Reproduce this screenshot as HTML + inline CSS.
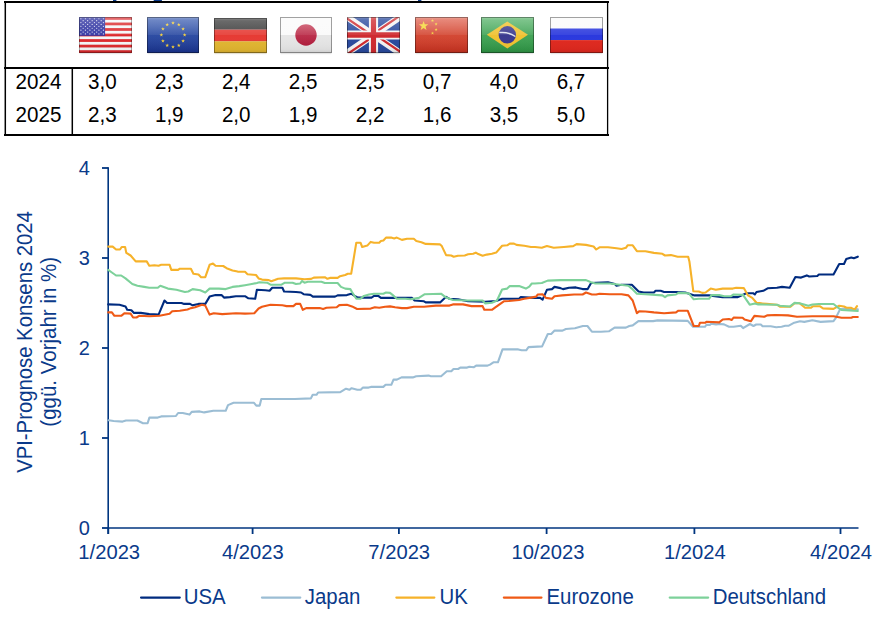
<!DOCTYPE html>
<html><head><meta charset="utf-8"><title>VPI-Prognose</title>
<style>
html,body{margin:0;padding:0;background:#fff;}
body{width:883px;height:617px;overflow:hidden;position:relative;font-family:"Liberation Sans", Arial, sans-serif;}
svg{position:absolute;left:0;top:0;}
</style></head><body>
<svg width="883" height="617" viewBox="0 0 883 617" font-family='"Liberation Sans", Arial, sans-serif'>

<g fill="#0a3a8a"><rect x="113" y="-1" width="3.4" height="2"/><rect x="153.6" y="-1" width="8.4" height="2.2" rx="1"/><rect x="418" y="-1" width="3.4" height="2"/></g>
<g stroke="#000" fill="none">
<line x1="4" y1="2" x2="609" y2="2" stroke-width="2"/>
<line x1="4" y1="68" x2="609" y2="68" stroke-width="2"/>
<line x1="4" y1="135" x2="609" y2="135" stroke-width="2"/>
<line x1="5.3" y1="1" x2="5.3" y2="136" stroke-width="1.5"/>
<line x1="607.6" y1="1" x2="607.6" y2="136" stroke-width="1.3"/>
<line x1="72.3" y1="68" x2="72.3" y2="135" stroke-width="1.5"/>
</g>
<g transform="translate(79,17)">
<rect x="0.5" y="1.2" width="52" height="36" fill="#000" opacity="0.10"/>
<rect width="53" height="36" fill="#f4f6f8"/><rect x="0" y="0.00" width="53" height="2.77" fill="#dd2a2e"/><rect x="0" y="5.54" width="53" height="2.77" fill="#dd2a2e"/><rect x="0" y="11.08" width="53" height="2.77" fill="#dd2a2e"/><rect x="0" y="16.62" width="53" height="2.77" fill="#dd2a2e"/><rect x="0" y="22.15" width="53" height="2.77" fill="#dd2a2e"/><rect x="0" y="27.69" width="53" height="2.77" fill="#dd2a2e"/><rect x="0" y="33.23" width="53" height="2.77" fill="#dd2a2e"/><rect x="0" y="0" width="26.1" height="18.80" fill="#3034a2"/><circle cx="1.90" cy="1.75" r="0.6" fill="#fff" opacity="0.85"/><circle cx="6.40" cy="1.75" r="0.6" fill="#fff" opacity="0.85"/><circle cx="10.90" cy="1.75" r="0.6" fill="#fff" opacity="0.85"/><circle cx="15.40" cy="1.75" r="0.6" fill="#fff" opacity="0.85"/><circle cx="19.90" cy="1.75" r="0.6" fill="#fff" opacity="0.85"/><circle cx="24.40" cy="1.75" r="0.6" fill="#fff" opacity="0.85"/><circle cx="4.15" cy="3.65" r="0.6" fill="#fff" opacity="0.85"/><circle cx="8.65" cy="3.65" r="0.6" fill="#fff" opacity="0.85"/><circle cx="13.15" cy="3.65" r="0.6" fill="#fff" opacity="0.85"/><circle cx="17.65" cy="3.65" r="0.6" fill="#fff" opacity="0.85"/><circle cx="22.15" cy="3.65" r="0.6" fill="#fff" opacity="0.85"/><circle cx="1.90" cy="5.55" r="0.6" fill="#fff" opacity="0.85"/><circle cx="6.40" cy="5.55" r="0.6" fill="#fff" opacity="0.85"/><circle cx="10.90" cy="5.55" r="0.6" fill="#fff" opacity="0.85"/><circle cx="15.40" cy="5.55" r="0.6" fill="#fff" opacity="0.85"/><circle cx="19.90" cy="5.55" r="0.6" fill="#fff" opacity="0.85"/><circle cx="24.40" cy="5.55" r="0.6" fill="#fff" opacity="0.85"/><circle cx="4.15" cy="7.45" r="0.6" fill="#fff" opacity="0.85"/><circle cx="8.65" cy="7.45" r="0.6" fill="#fff" opacity="0.85"/><circle cx="13.15" cy="7.45" r="0.6" fill="#fff" opacity="0.85"/><circle cx="17.65" cy="7.45" r="0.6" fill="#fff" opacity="0.85"/><circle cx="22.15" cy="7.45" r="0.6" fill="#fff" opacity="0.85"/><circle cx="1.90" cy="9.35" r="0.6" fill="#fff" opacity="0.85"/><circle cx="6.40" cy="9.35" r="0.6" fill="#fff" opacity="0.85"/><circle cx="10.90" cy="9.35" r="0.6" fill="#fff" opacity="0.85"/><circle cx="15.40" cy="9.35" r="0.6" fill="#fff" opacity="0.85"/><circle cx="19.90" cy="9.35" r="0.6" fill="#fff" opacity="0.85"/><circle cx="24.40" cy="9.35" r="0.6" fill="#fff" opacity="0.85"/><circle cx="4.15" cy="11.25" r="0.6" fill="#fff" opacity="0.85"/><circle cx="8.65" cy="11.25" r="0.6" fill="#fff" opacity="0.85"/><circle cx="13.15" cy="11.25" r="0.6" fill="#fff" opacity="0.85"/><circle cx="17.65" cy="11.25" r="0.6" fill="#fff" opacity="0.85"/><circle cx="22.15" cy="11.25" r="0.6" fill="#fff" opacity="0.85"/><circle cx="1.90" cy="13.15" r="0.6" fill="#fff" opacity="0.85"/><circle cx="6.40" cy="13.15" r="0.6" fill="#fff" opacity="0.85"/><circle cx="10.90" cy="13.15" r="0.6" fill="#fff" opacity="0.85"/><circle cx="15.40" cy="13.15" r="0.6" fill="#fff" opacity="0.85"/><circle cx="19.90" cy="13.15" r="0.6" fill="#fff" opacity="0.85"/><circle cx="24.40" cy="13.15" r="0.6" fill="#fff" opacity="0.85"/><circle cx="4.15" cy="15.05" r="0.6" fill="#fff" opacity="0.85"/><circle cx="8.65" cy="15.05" r="0.6" fill="#fff" opacity="0.85"/><circle cx="13.15" cy="15.05" r="0.6" fill="#fff" opacity="0.85"/><circle cx="17.65" cy="15.05" r="0.6" fill="#fff" opacity="0.85"/><circle cx="22.15" cy="15.05" r="0.6" fill="#fff" opacity="0.85"/><circle cx="1.90" cy="16.95" r="0.6" fill="#fff" opacity="0.85"/><circle cx="6.40" cy="16.95" r="0.6" fill="#fff" opacity="0.85"/><circle cx="10.90" cy="16.95" r="0.6" fill="#fff" opacity="0.85"/><circle cx="15.40" cy="16.95" r="0.6" fill="#fff" opacity="0.85"/><circle cx="19.90" cy="16.95" r="0.6" fill="#fff" opacity="0.85"/><circle cx="24.40" cy="16.95" r="0.6" fill="#fff" opacity="0.85"/><defs><linearGradient id="gus" x1="0" y1="0" x2="0" y2="1">
<stop offset="0" stop-color="#fff" stop-opacity="0.38"/><stop offset="0.08" stop-color="#fff" stop-opacity="0.22"/>
<stop offset="0.49" stop-color="#fff" stop-opacity="0.07"/><stop offset="0.5" stop-color="#fff" stop-opacity="0"/>
<stop offset="0.9" stop-color="#000" stop-opacity="0.04"/><stop offset="1" stop-color="#000" stop-opacity="0.12"/></linearGradient></defs>
<rect x="0" y="0" width="53" height="36" fill="url(#gus)"/><rect x="0.5" y="0.5" width="52" height="35" fill="none" stroke="#000" stroke-width="1" opacity="0.3"/>
</g>
<g transform="translate(147,17)">
<rect x="0.5" y="1.2" width="51" height="36" fill="#000" opacity="0.10"/>
<defs><linearGradient id="eub" x1="0" y1="0" x2="0" y2="1"><stop offset="0" stop-color="#4a6ab8"/><stop offset="0.5" stop-color="#2f4ea4"/><stop offset="1" stop-color="#1a348e"/></linearGradient></defs><rect width="52" height="36" fill="url(#eub)"/><polygon points="26.00,4.05 26.46,5.37 27.85,5.40 26.74,6.24 27.15,7.58 26.00,6.78 24.85,7.58 25.26,6.24 24.15,5.40 25.54,5.37" fill="#f5d03a"/><polygon points="31.82,5.66 32.28,6.98 33.67,7.01 32.56,7.85 32.97,9.19 31.82,8.39 30.67,9.19 31.08,7.85 29.97,7.01 31.36,6.98" fill="#f5d03a"/><polygon points="36.08,10.05 36.54,11.37 37.94,11.40 36.82,12.24 37.23,13.58 36.08,12.78 34.93,13.58 35.34,12.24 34.23,11.40 35.62,11.37" fill="#f5d03a"/><polygon points="37.64,16.05 38.10,17.37 39.49,17.40 38.38,18.24 38.79,19.58 37.64,18.78 36.49,19.58 36.90,18.24 35.79,17.40 37.18,17.37" fill="#f5d03a"/><polygon points="36.08,22.05 36.54,23.37 37.94,23.40 36.82,24.24 37.23,25.58 36.08,24.78 34.93,25.58 35.34,24.24 34.23,23.40 35.62,23.37" fill="#f5d03a"/><polygon points="31.82,26.44 32.28,27.76 33.67,27.79 32.56,28.63 32.97,29.97 31.82,29.17 30.67,29.97 31.08,28.63 29.97,27.79 31.36,27.76" fill="#f5d03a"/><polygon points="26.00,28.05 26.46,29.37 27.85,29.40 26.74,30.24 27.15,31.58 26.00,30.78 24.85,31.58 25.26,30.24 24.15,29.40 25.54,29.37" fill="#f5d03a"/><polygon points="20.18,26.44 20.64,27.76 22.03,27.79 20.92,28.63 21.33,29.97 20.18,29.17 19.03,29.97 19.44,28.63 18.33,27.79 19.72,27.76" fill="#f5d03a"/><polygon points="15.92,22.05 16.38,23.37 17.77,23.40 16.66,24.24 17.07,25.58 15.92,24.78 14.77,25.58 15.18,24.24 14.06,23.40 15.46,23.37" fill="#f5d03a"/><polygon points="14.36,16.05 14.82,17.37 16.21,17.40 15.10,18.24 15.51,19.58 14.36,18.78 13.21,19.58 13.62,18.24 12.51,17.40 13.90,17.37" fill="#f5d03a"/><polygon points="15.92,10.05 16.38,11.37 17.77,11.40 16.66,12.24 17.07,13.58 15.92,12.78 14.77,13.58 15.18,12.24 14.06,11.40 15.46,11.37" fill="#f5d03a"/><polygon points="20.18,5.66 20.64,6.98 22.03,7.01 20.92,7.85 21.33,9.19 20.18,8.39 19.03,9.19 19.44,7.85 18.33,7.01 19.72,6.98" fill="#f5d03a"/><defs><linearGradient id="geu" x1="0" y1="0" x2="0" y2="1">
<stop offset="0" stop-color="#fff" stop-opacity="0.38"/><stop offset="0.08" stop-color="#fff" stop-opacity="0.22"/>
<stop offset="0.49" stop-color="#fff" stop-opacity="0.07"/><stop offset="0.5" stop-color="#fff" stop-opacity="0"/>
<stop offset="0.9" stop-color="#000" stop-opacity="0.04"/><stop offset="1" stop-color="#000" stop-opacity="0.12"/></linearGradient></defs>
<rect x="0" y="0" width="52" height="36" fill="url(#geu)"/><rect x="0.5" y="0.5" width="51" height="35" fill="none" stroke="#000" stroke-width="1" opacity="0.36"/>
</g>
<g transform="translate(214,18)">
<rect x="0.5" y="1.2" width="52" height="35" fill="#000" opacity="0.10"/>
<rect x="0" y="0" width="53" height="11.67" fill="#404040"/><rect x="0" y="11.67" width="53" height="11.67" fill="#e63b34"/><rect x="0" y="23.33" width="53" height="11.77" fill="#e2b631"/><defs><linearGradient id="gde" x1="0" y1="0" x2="0" y2="1">
<stop offset="0" stop-color="#fff" stop-opacity="0.38"/><stop offset="0.08" stop-color="#fff" stop-opacity="0.22"/>
<stop offset="0.49" stop-color="#fff" stop-opacity="0.07"/><stop offset="0.5" stop-color="#fff" stop-opacity="0"/>
<stop offset="0.9" stop-color="#000" stop-opacity="0.04"/><stop offset="1" stop-color="#000" stop-opacity="0.12"/></linearGradient></defs>
<rect x="0" y="0" width="53" height="35" fill="url(#gde)"/><rect x="0.5" y="0.5" width="52" height="34" fill="none" stroke="#000" stroke-width="1" opacity="0.36"/>
</g>
<g transform="translate(280,17)">
<rect x="0.5" y="1.2" width="51" height="36" fill="#000" opacity="0.10"/>
<defs><linearGradient id="jpr" x1="0" y1="0" x2="0" y2="1"><stop offset="0" stop-color="#c8485f"/><stop offset="1" stop-color="#b01c3c"/></linearGradient></defs><rect width="52" height="36" fill="#fafafa"/><rect x="0" y="18.0" width="52" height="18.0" fill="#e6e6e6"/><circle cx="26" cy="18" r="10.7" fill="url(#jpr)"/><defs><linearGradient id="gjp" x1="0" y1="0" x2="0" y2="1">
<stop offset="0" stop-color="#fff" stop-opacity="0.38"/><stop offset="0.08" stop-color="#fff" stop-opacity="0.22"/>
<stop offset="0.49" stop-color="#fff" stop-opacity="0.07"/><stop offset="0.5" stop-color="#fff" stop-opacity="0"/>
<stop offset="0.9" stop-color="#000" stop-opacity="0.04"/><stop offset="1" stop-color="#000" stop-opacity="0.12"/></linearGradient></defs>
<rect x="0" y="0" width="52" height="36" fill="url(#gjp)"/><rect x="0.5" y="0.5" width="51" height="35" fill="none" stroke="#000" stroke-width="1" opacity="0.36"/>
</g>
<g transform="translate(347,17)">
<rect x="0.5" y="1.2" width="52" height="36" fill="#000" opacity="0.10"/>
<svg x="0" y="0" width="53" height="36" viewBox="0 0 60 30" preserveAspectRatio="none"><clipPath id="ukc"><path d="M30,15 h30 v15 z v15 h-30 z h-30 v-15 z v-15 h30 z"/></clipPath><path d="M0,0 v30 h60 v-30 z" fill="#2a4a9e"/><path d="M0,0 L60,30 M60,0 L0,30" stroke="#f4f4f4" stroke-width="6"/><path d="M0,0 L60,30 M60,0 L0,30" clip-path="url(#ukc)" stroke="#cf2b30" stroke-width="4"/><path d="M30,0 v30" stroke="#f4f4f4" stroke-width="10.4"/><path d="M0,15 h60" stroke="#f4f4f4" stroke-width="7.7"/><path d="M30,0 v30" stroke="#cf2b30" stroke-width="5.8"/><path d="M0,15 h60" stroke="#cf2b30" stroke-width="4.4"/></svg><defs><linearGradient id="guk" x1="0" y1="0" x2="0" y2="1">
<stop offset="0" stop-color="#fff" stop-opacity="0.38"/><stop offset="0.08" stop-color="#fff" stop-opacity="0.22"/>
<stop offset="0.49" stop-color="#fff" stop-opacity="0.07"/><stop offset="0.5" stop-color="#fff" stop-opacity="0"/>
<stop offset="0.9" stop-color="#000" stop-opacity="0.04"/><stop offset="1" stop-color="#000" stop-opacity="0.12"/></linearGradient></defs>
<rect x="0" y="0" width="53" height="36" fill="url(#guk)"/><rect x="0.5" y="0.5" width="52" height="35" fill="none" stroke="#000" stroke-width="1" opacity="0.36"/>
</g>
<g transform="translate(415,17)">
<rect x="0.5" y="1.2" width="52" height="36" fill="#000" opacity="0.10"/>
<defs><linearGradient id="cnr" x1="0" y1="0" x2="0" y2="1"><stop offset="0" stop-color="#e26a58"/><stop offset="0.5" stop-color="#d44a36"/><stop offset="1" stop-color="#c63220"/></linearGradient></defs><rect width="53" height="36" fill="url(#cnr)"/><polygon points="8.60,3.90 9.78,7.28 13.36,7.35 10.50,9.52 11.54,12.95 8.60,10.90 5.66,12.95 6.70,9.52 3.84,7.35 7.42,7.28" fill="#f5d83a"/><polygon points="17.50,2.00 17.88,3.08 19.02,3.11 18.11,3.80 18.44,4.89 17.50,4.24 16.56,4.89 16.89,3.80 15.98,3.11 17.12,3.08" fill="#f5d83a"/><polygon points="21.10,5.50 21.48,6.58 22.62,6.61 21.71,7.30 22.04,8.39 21.10,7.74 20.16,8.39 20.49,7.30 19.58,6.61 20.72,6.58" fill="#f5d83a"/><polygon points="21.10,11.00 21.48,12.08 22.62,12.11 21.71,12.80 22.04,13.89 21.10,13.24 20.16,13.89 20.49,12.80 19.58,12.11 20.72,12.08" fill="#f5d83a"/><polygon points="17.50,14.60 17.88,15.68 19.02,15.71 18.11,16.40 18.44,17.49 17.50,16.84 16.56,17.49 16.89,16.40 15.98,15.71 17.12,15.68" fill="#f5d83a"/><defs><linearGradient id="gcn" x1="0" y1="0" x2="0" y2="1">
<stop offset="0" stop-color="#fff" stop-opacity="0.38"/><stop offset="0.08" stop-color="#fff" stop-opacity="0.22"/>
<stop offset="0.49" stop-color="#fff" stop-opacity="0.07"/><stop offset="0.5" stop-color="#fff" stop-opacity="0"/>
<stop offset="0.9" stop-color="#000" stop-opacity="0.04"/><stop offset="1" stop-color="#000" stop-opacity="0.12"/></linearGradient></defs>
<rect x="0" y="0" width="53" height="36" fill="url(#gcn)"/><rect x="0.5" y="0.5" width="52" height="35" fill="none" stroke="#000" stroke-width="1" opacity="0.36"/>
</g>
<g transform="translate(481,17)">
<rect x="0.5" y="1.2" width="52" height="36" fill="#000" opacity="0.10"/>
<defs><linearGradient id="brg" x1="0" y1="0" x2="0" y2="1"><stop offset="0" stop-color="#5cb66e"/><stop offset="1" stop-color="#2e9444"/></linearGradient></defs><rect width="53" height="36" fill="url(#brg)"/><polygon points="5.8,17.8 26.3,4.5 47,17.8 26.3,31.4" fill="#f0c232"/><circle cx="26.3" cy="17.8" r="8.7" fill="#3b3a8f"/><path d="M18.2,15.6 Q27,14.5 34.4,19.5" stroke="#dfe2ee" stroke-width="1.5" fill="none"/><defs><linearGradient id="gbr" x1="0" y1="0" x2="0" y2="1">
<stop offset="0" stop-color="#fff" stop-opacity="0.38"/><stop offset="0.08" stop-color="#fff" stop-opacity="0.22"/>
<stop offset="0.49" stop-color="#fff" stop-opacity="0.07"/><stop offset="0.5" stop-color="#fff" stop-opacity="0"/>
<stop offset="0.9" stop-color="#000" stop-opacity="0.04"/><stop offset="1" stop-color="#000" stop-opacity="0.12"/></linearGradient></defs>
<rect x="0" y="0" width="53" height="36" fill="url(#gbr)"/><rect x="0.5" y="0.5" width="52" height="35" fill="none" stroke="#000" stroke-width="1" opacity="0.36"/>
</g>
<g transform="translate(550,17)">
<rect x="0.5" y="1.2" width="52" height="36" fill="#000" opacity="0.10"/>
<rect width="53" height="36" fill="#fafafa"/><rect x="0" y="11.5" width="53" height="11.6" fill="#2b39de"/><rect x="0" y="23.1" width="53" height="12.9" fill="#e0291f"/><defs><linearGradient id="gru" x1="0" y1="0" x2="0" y2="1">
<stop offset="0" stop-color="#fff" stop-opacity="0.38"/><stop offset="0.08" stop-color="#fff" stop-opacity="0.22"/>
<stop offset="0.49" stop-color="#fff" stop-opacity="0.07"/><stop offset="0.5" stop-color="#fff" stop-opacity="0"/>
<stop offset="0.9" stop-color="#000" stop-opacity="0.04"/><stop offset="1" stop-color="#000" stop-opacity="0.12"/></linearGradient></defs>
<rect x="0" y="0" width="53" height="36" fill="url(#gru)"/><rect x="0.5" y="0.5" width="52" height="35" fill="none" stroke="#000" stroke-width="1" opacity="0.36"/>
</g>
<g fill="#000">
<text transform="translate(15.60,89.20) scale(1.0,1.06)" font-size="20.6">2024</text>
<text transform="translate(15.60,122.40) scale(1.0,1.06)" font-size="20.6">2025</text>
<text transform="translate(88.00,89.20) scale(1.0,1.06)" font-size="20.6">3,0</text>
<text transform="translate(88.00,122.40) scale(1.0,1.06)" font-size="20.6">2,3</text>
<text transform="translate(154.95,89.20) scale(1.0,1.06)" font-size="20.6">2,3</text>
<text transform="translate(154.95,122.40) scale(1.0,1.06)" font-size="20.6">1,9</text>
<text transform="translate(221.90,89.20) scale(1.0,1.06)" font-size="20.6">2,4</text>
<text transform="translate(221.90,122.40) scale(1.0,1.06)" font-size="20.6">2,0</text>
<text transform="translate(288.85,89.20) scale(1.0,1.06)" font-size="20.6">2,5</text>
<text transform="translate(288.85,122.40) scale(1.0,1.06)" font-size="20.6">1,9</text>
<text transform="translate(355.80,89.20) scale(1.0,1.06)" font-size="20.6">2,5</text>
<text transform="translate(355.80,122.40) scale(1.0,1.06)" font-size="20.6">2,2</text>
<text transform="translate(422.75,89.20) scale(1.0,1.06)" font-size="20.6">0,7</text>
<text transform="translate(422.75,122.40) scale(1.0,1.06)" font-size="20.6">1,6</text>
<text transform="translate(489.70,89.20) scale(1.0,1.06)" font-size="20.6">4,0</text>
<text transform="translate(489.70,122.40) scale(1.0,1.06)" font-size="20.6">3,5</text>
<text transform="translate(556.65,89.20) scale(1.0,1.06)" font-size="20.6">6,7</text>
<text transform="translate(556.65,122.40) scale(1.0,1.06)" font-size="20.6">5,0</text>
</g>
<g stroke="#00357f" stroke-width="1.8" fill="none">
<line x1="108.2" y1="167.2" x2="108.2" y2="534" stroke-width="1.6"/>
<line x1="107.4" y1="528" x2="858.5" y2="528" stroke-width="1.45"/>
<line x1="102" y1="528" x2="108.3" y2="528"/>
<line x1="102" y1="438" x2="108.3" y2="438"/>
<line x1="102" y1="348" x2="108.3" y2="348"/>
<line x1="102" y1="258" x2="108.3" y2="258"/>
<line x1="102" y1="168" x2="108.3" y2="168"/>
<line x1="108.3" y1="528" x2="108.3" y2="534"/>
<line x1="252.6" y1="528" x2="252.6" y2="534"/>
<line x1="398.9" y1="528" x2="398.9" y2="534"/>
<line x1="546.6" y1="528" x2="546.6" y2="534"/>
<line x1="694.4" y1="528" x2="694.4" y2="534"/>
<line x1="840.5" y1="528" x2="840.5" y2="534"/>
</g>
<g fill="#0a3a8a">
<text transform="translate(89.80,534.50) scale(1.0,1.05)" font-size="20" text-anchor="end">0</text>
<text transform="translate(89.80,444.50) scale(1.0,1.05)" font-size="20" text-anchor="end">1</text>
<text transform="translate(89.80,354.50) scale(1.0,1.05)" font-size="20" text-anchor="end">2</text>
<text transform="translate(89.80,264.50) scale(1.0,1.05)" font-size="20" text-anchor="end">3</text>
<text transform="translate(89.80,174.50) scale(1.0,1.05)" font-size="20" text-anchor="end">4</text>
</g>
<g fill="#0a3a8a">
<text transform="translate(109.20,559.00) scale(1.01,1.04)" font-size="20" text-anchor="middle">1/2023</text>
<text transform="translate(252.90,559.00) scale(1.01,1.04)" font-size="20" text-anchor="middle">4/2023</text>
<text transform="translate(399.20,559.00) scale(1.01,1.04)" font-size="20" text-anchor="middle">7/2023</text>
<text transform="translate(547.90,559.00) scale(1.01,1.04)" font-size="20" text-anchor="middle">10/2023</text>
<text transform="translate(694.90,559.00) scale(1.01,1.04)" font-size="20" text-anchor="middle">1/2024</text>
<text transform="translate(841.00,559.00) scale(1.01,1.04)" font-size="20" text-anchor="middle">4/2024</text>
</g>
<g fill="#0a3a8a">
<text transform="translate(32.10,342.00) rotate(-90) scale(1.0,1.07)" font-size="20.3" text-anchor="middle">VPI-Prognose Konsens 2024</text>
<text transform="translate(55.80,341.80) rotate(-90) scale(1.0,1.04)" font-size="20.5" text-anchor="middle">(ggü. Vorjahr in %)</text>
</g>
<g fill="none" stroke-width="2.1" stroke-linejoin="round" stroke-linecap="round">
<polyline stroke="#002b7f" points="108.2,304.4 119.5,304.7 125.5,306.4 127.2,309.8 131.4,310.3 134.0,312.9 140.8,312.9 149.3,314.1 158.6,314.6 164.5,300.5 167.1,303.0 181.5,303.0 184.1,303.9 190.0,303.9 192.6,305.3 198.5,303.9 205.3,303.9 209.6,296.6 215.5,295.1 221.5,295.1 224.0,297.6 229.9,297.1 235.9,296.2 245.0,296.2 248.4,298.3 255.2,298.8 256.9,289.8 265.4,290.3 269.6,290.8 272.2,287.8 282.4,287.8 284.1,291.5 296.0,292.0 301.1,292.5 303.6,294.2 310.4,294.9 312.9,296.6 335.0,296.6 337.6,295.4 346.9,295.1 351.2,293.7 354.6,295.9 358.0,297.6 371.5,297.6 374.1,295.9 378.3,295.9 380.9,297.9 390.0,297.9 412.1,297.9 414.6,300.5 424.0,301.3 425.7,302.4 440.1,302.4 446.1,296.8 449.5,298.8 457.9,299.3 468.1,301.3 485.1,301.7 496.2,301.0 502.1,298.8 519.1,298.8 520.8,297.1 529.3,297.6 535.0,297.9 540.1,297.9 542.6,299.6 546.9,289.8 552.0,289.1 554.5,286.9 560.5,288.1 563.0,289.1 569.0,287.8 575.8,287.4 582.6,289.1 587.7,289.1 591.1,283.0 596.2,282.7 608.0,282.3 614.8,284.0 616.5,285.7 621.6,284.7 631.8,284.7 638.6,291.5 643.7,292.5 653.9,292.5 655.6,290.8 660.7,290.8 664.1,292.0 676.0,292.0 685.2,292.5 694.5,295.4 709.0,295.4 722.6,297.1 737.9,297.1 746.3,293.2 753.1,293.2 754.8,294.5 756.5,292.0 763.3,290.8 767.6,288.3 776.9,287.8 782.0,286.9 789.7,287.8 795.4,277.0 801.1,277.6 806.8,275.4 809.2,276.5 817.3,276.0 818.9,274.5 833.5,274.5 839.2,264.0 844.0,264.0 846.2,259.1 851.3,257.5 853.8,258.2 857.8,256.7"/>
<polyline stroke="#9bbdd4" points="108.6,420.3 113.6,421.0 122.6,421.6 126.0,420.5 137.4,420.5 143.0,423.2 147.6,423.2 149.4,417.6 157.8,417.6 161.2,416.4 175.9,416.0 178.1,413.0 182.7,413.0 189.5,414.6 191.7,411.9 199.7,411.4 204.2,412.4 213.3,410.8 225.7,410.8 228.0,405.1 233.6,402.8 254.0,402.8 256.3,405.6 259.7,405.6 261.3,399.0 294.8,399.0 310.9,398.4 312.7,394.8 316.5,394.8 318.1,392.5 340.3,392.1 346.0,388.7 349.4,389.8 351.6,388.2 357.3,389.8 360.7,389.8 363.0,387.6 368.6,387.6 370.9,386.9 383.3,386.9 385.6,384.8 391.3,384.8 393.5,379.6 396.9,379.6 401.5,377.4 412.8,377.4 416.2,376.2 428.6,375.6 430.9,376.2 441.1,376.2 446.8,371.3 451.3,371.3 453.5,369.0 458.1,369.0 460.3,367.6 467.1,367.6 469.4,366.7 473.9,367.2 476.2,365.6 487.5,365.6 490.0,364.6 493.4,362.3 497.9,362.3 502.5,349.4 518.3,349.4 521.7,350.3 526.2,350.3 528.5,347.1 542.1,346.4 547.8,334.0 551.2,334.0 554.6,330.6 562.5,330.6 565.9,329.0 574.9,328.3 582.9,326.0 587.4,326.0 591.9,331.7 601.0,331.7 608.9,331.3 614.6,327.6 625.9,327.6 629.3,326.0 632.7,325.4 638.4,321.1 653.1,321.1 657.6,320.4 687.7,320.9 693.0,326.8 704.9,326.8 706.4,324.9 709.8,324.9 711.2,323.7 716.1,324.4 720.0,324.0 724.0,324.4 729.0,326.7 733.6,326.7 740.8,325.7 743.1,328.1 749.9,324.0 753.5,326.0 756.2,324.5 760.8,324.5 762.6,326.3 770.7,326.3 776.2,327.2 781.6,326.7 785.2,325.8 788.8,325.7 794.3,322.7 800.0,321.3 804.3,321.9 812.4,320.3 820.5,321.9 833.5,321.1 835.9,317.8 840.0,309.4 843.2,308.9 857.8,309.4"/>
<polyline stroke="#f6b22a" points="108.2,246.6 112.7,246.6 116.1,249.5 120.0,249.5 121.7,247.0 125.1,247.0 126.3,252.9 130.6,255.5 135.7,261.4 146.7,261.4 149.3,265.7 154.4,265.3 158.6,265.7 161.2,264.8 169.6,264.8 171.3,269.9 178.1,269.9 179.8,268.7 190.9,268.7 193.4,273.8 198.5,274.5 201.1,277.2 205.3,277.2 209.6,264.8 213.0,263.6 215.5,265.7 223.2,266.0 226.6,268.2 232.5,270.4 237.6,271.6 245.0,271.8 247.5,274.2 256.0,275.0 258.6,278.4 262.0,279.6 268.8,280.1 271.3,281.3 274.7,280.1 278.1,278.8 284.1,278.4 296.0,278.4 304.5,279.3 311.2,278.9 313.8,277.6 324.8,277.2 327.4,278.8 329.9,277.9 337.6,277.9 340.1,276.2 345.2,275.0 347.8,273.8 351.2,273.7 356.3,242.7 360.5,242.7 362.2,247.0 367.3,245.6 370.7,241.9 374.1,242.7 379.2,242.7 380.9,241.0 383.4,240.5 386.0,237.6 391.1,237.6 394.2,238.5 396.8,237.6 401.9,239.9 407.0,238.8 413.8,238.8 416.3,241.0 421.4,242.2 425.7,243.9 440.1,244.4 441.8,246.1 446.1,255.1 451.2,255.5 453.7,256.7 457.9,255.8 464.7,255.5 468.1,254.3 473.2,253.8 475.8,252.6 478.3,254.1 482.6,255.8 486.8,254.6 491.9,253.8 496.2,252.6 502.1,245.8 507.2,245.3 509.8,243.6 514.0,243.6 516.5,244.9 524.2,245.8 531.0,247.0 535.0,247.0 541.8,247.8 546.9,246.1 553.7,247.8 563.9,247.0 573.2,246.1 576.6,244.1 586.0,244.9 593.6,246.5 596.2,249.5 599.5,247.3 608.0,247.3 616.5,248.3 621.6,249.0 625.9,247.8 627.6,245.3 632.7,245.3 636.9,251.2 645.4,251.2 653.9,252.9 662.4,253.8 665.0,255.5 670.9,255.1 677.7,256.7 688.2,256.7 689.4,261.4 693.3,291.2 698.8,291.5 702.2,292.9 705.6,292.5 710.7,288.6 715.8,289.8 722.6,288.6 732.8,288.6 736.2,287.8 743.8,288.1 748.0,295.4 752.3,297.9 756.5,302.7 761.6,303.4 766.7,303.9 776.9,304.7 780.3,306.8 790.5,306.8 794.6,303.2 799.5,303.2 805.1,307.8 810.8,307.8 813.2,306.2 819.7,306.2 823.0,308.4 833.5,308.9 839.2,305.7 844.0,306.5 846.5,307.8 851.3,307.8 854.6,309.7 857.0,306.2"/>
<polyline stroke="#ef5a16" points="108.2,312.4 111.9,312.4 114.4,315.8 121.2,315.8 124.6,313.2 130.6,313.6 133.1,317.5 136.5,317.5 139.1,315.8 149.3,316.3 159.5,315.8 169.6,313.7 172.2,311.2 179.8,310.7 187.5,309.5 190.9,308.1 195.1,307.3 201.9,304.7 205.3,305.6 209.6,314.6 213.8,313.2 222.3,314.1 235.9,313.2 245.0,313.6 254.3,313.2 258.6,308.5 262.0,306.8 270.5,304.7 282.4,305.3 286.6,306.1 293.4,306.1 296.0,303.9 300.2,303.9 302.8,309.8 306.2,308.1 319.7,308.1 323.1,309.0 326.5,307.8 336.7,307.3 339.3,305.1 346.9,304.7 352.0,306.4 357.1,309.0 370.7,308.6 374.9,307.3 379.2,307.8 385.1,306.8 390.0,306.4 395.1,307.3 401.9,308.1 407.0,308.1 413.8,306.8 424.0,306.8 435.9,305.6 449.5,305.6 452.9,304.4 463.0,304.4 471.5,306.1 482.6,306.1 484.3,309.8 491.9,309.8 495.3,307.3 503.8,301.3 508.9,301.0 519.1,300.0 524.2,298.8 531.0,297.6 536.1,296.6 537.8,294.5 542.6,294.2 546.0,297.9 552.0,298.8 554.5,296.2 562.2,295.4 574.1,294.5 582.6,294.5 586.0,292.5 591.9,294.5 596.2,294.5 599.5,293.7 609.7,294.2 621.6,294.2 628.4,295.4 632.7,300.5 636.9,313.2 639.5,311.2 645.4,311.5 653.9,312.4 664.1,313.2 676.0,312.4 678.4,310.7 687.7,310.7 693.7,326.0 698.8,326.0 700.0,322.7 705.4,322.7 706.4,321.7 719.2,322.4 722.7,319.5 729.0,319.0 731.8,320.0 733.6,317.5 742.6,317.7 744.5,319.5 750.8,321.3 754.4,315.9 764.4,316.8 767.1,315.4 775.3,315.0 788.0,315.4 797.0,316.8 812.4,316.2 833.5,316.2 841.6,317.8 851.3,317.8 853.0,317.0 857.8,317.0"/>
<polyline stroke="#7dd19a" points="108.2,269.9 111.9,272.5 116.1,275.5 121.2,275.5 125.5,278.4 132.3,284.0 137.4,285.7 144.2,286.9 149.3,287.8 157.8,287.8 160.3,285.7 167.9,288.6 176.4,289.8 184.9,292.0 188.3,291.5 192.6,289.1 200.2,290.3 205.3,292.5 209.6,288.6 218.9,288.6 225.7,289.1 232.5,286.9 239.3,286.1 245.0,285.2 251.8,284.0 256.9,283.0 259.4,282.3 267.1,282.7 270.5,284.7 281.5,284.7 284.9,282.7 292.6,282.7 296.0,284.0 300.2,283.5 301.9,281.0 304.5,282.7 307.9,281.8 321.4,281.8 324.8,283.0 337.6,283.0 341.0,286.9 345.2,288.6 350.3,289.1 352.0,292.0 356.3,298.8 360.5,298.8 363.9,295.9 369.0,294.5 374.1,293.7 383.4,293.7 386.0,292.5 390.0,292.9 392.5,294.9 396.8,298.8 405.3,298.8 410.4,299.3 418.9,297.9 424.8,294.2 441.0,293.7 446.1,297.6 452.9,300.0 468.1,300.5 482.6,300.5 485.1,303.4 491.9,302.7 497.0,300.5 502.1,289.5 507.2,288.6 509.8,286.1 519.1,286.1 525.9,288.6 529.3,286.6 531.8,283.5 535.0,283.5 541.8,283.0 547.7,280.6 560.5,280.1 586.0,280.1 591.1,282.3 595.3,283.5 609.7,283.5 628.4,285.7 631.8,288.6 636.9,293.7 645.4,294.2 662.4,295.4 665.0,297.1 667.5,295.4 676.0,294.5 678.4,292.9 688.6,293.2 693.7,299.3 698.8,298.8 709.0,298.8 711.5,295.1 719.2,295.1 724.3,296.2 731.0,296.2 733.6,294.5 743.0,294.9 749.7,304.7 754.8,303.4 758.2,304.4 776.9,304.7 780.0,305.7 789.7,306.5 794.6,302.9 799.5,303.2 808.4,305.7 812.4,304.5 818.9,304.0 833.5,304.0 837.6,307.3 841.6,310.0 857.8,311.0"/>
</g>
<g>
<line x1="141" y1="597.6" x2="179.8" y2="597.6" stroke="#002b7f" stroke-width="2.1" stroke-linecap="round"/>
<text transform="translate(183.70,603.90) scale(1.0,1.05)" font-size="20.4" fill="#0a3a8a">USA</text>
<line x1="261.9" y1="597.6" x2="300.3" y2="597.6" stroke="#9bbdd4" stroke-width="2.1" stroke-linecap="round"/>
<text transform="translate(304.80,603.90) scale(1.0,1.05)" font-size="20.4" fill="#0a3a8a">Japan</text>
<line x1="396.3" y1="597.6" x2="434.4" y2="597.6" stroke="#f6b22a" stroke-width="2.1" stroke-linecap="round"/>
<text transform="translate(439.40,603.90) scale(1.0,1.05)" font-size="20.4" fill="#0a3a8a">UK</text>
<line x1="503.8" y1="597.6" x2="541.5" y2="597.6" stroke="#ef5a16" stroke-width="2.1" stroke-linecap="round"/>
<text transform="translate(546.50,603.90) scale(1.0,1.05)" font-size="20.4" fill="#0a3a8a">Eurozone</text>
<line x1="669.7" y1="597.6" x2="708.2" y2="597.6" stroke="#7dd19a" stroke-width="2.1" stroke-linecap="round"/>
<text transform="translate(712.70,603.90) scale(1.0,1.05)" font-size="20.4" fill="#0a3a8a">Deutschland</text>
</g>
</svg>
</body></html>
